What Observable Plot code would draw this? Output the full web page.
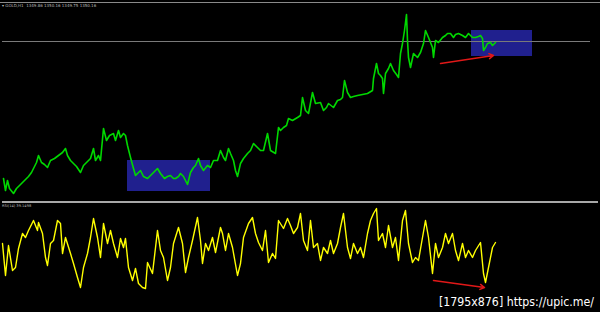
<!DOCTYPE html>
<html>
<head>
<meta charset="utf-8">
<script src="https://cdn.jsdelivr.net/npm/d3@7"></script>
<script src="https://cdn.jsdelivr.net/npm/@observablehq/plot@0.6"></script>
<style>
  html, body { margin: 0; padding: 0; background: #000; }
  #wrap { position: relative; width: 600px; height: 312px; background: #000; overflow: hidden; font-family: "DejaVu Sans", sans-serif; }
  #wrap > div.plot { position: absolute; left: 0; }
  .hline { position: absolute; }
  .lbl { position: absolute; color: #bbb; white-space: nowrap; line-height: 1; }
</style>
</head>
<body>
<div id="wrap">
  <div class="hline" style="left:0;top:2px;width:600px;height:1px;background:#8a8a8a"></div>
  <div class="lbl" style="left:2px;top:4px;font-size:4px">▾ GOLD,H1&nbsp; 1349.86 1350.16 1349.75 1350.16</div>
  <div class="plot" id="top" style="top:0"></div>
  <div class="hline" style="left:2px;top:201px;width:596px;height:2px;background:#a8a8a8"></div>
  <div class="lbl" style="left:2px;top:205px;font-size:3.6px">RSI(14) 39.1498</div>
  <div class="plot" id="bottom" style="top:200px"></div>
  <svg style="position:absolute;left:0;top:0" width="600" height="312">
    <text x="594" y="306" text-anchor="end" textLength="155" lengthAdjust="spacingAndGlyphs"
      font-family="'Liberation Sans Narrow','DejaVu Sans Condensed',sans-serif" font-size="12.5"
      fill="#fff" stroke="#000" stroke-width="2" paint-order="stroke">[1795x876] https://upic.me/</text>
  </svg>
</div>
<script>
// ---- price panel (bar index, close) ----
const bars = [3,5,7,9,13,16,20,24,28,31,33,36,38,41,44,47,50,54,58,62,65,67,70,73,76,80,83,86,90,93,95,98,100,103,106,109,113,115,118,120,123,125,127,130,133,135,137,140,143,147,150,153,157,160,164,167,170,173,175,178,180,183,185,187,190,193,195,198,200,203,207,210,213,217,220,223,225,228,230,233,235,237,240,243,247,250,253,257,260,263,267,270,275,278,280,283,286,288,292,297,300,302,305,308,312,315,320,323,326,328,333,337,340,342,344,347,350,353,357,362,367,372,373,376,378,380,382,383,385,388,390,393,396,398,400,402,404,406,407,408,410,413,417,420,423,425,428,430,432,433,435,438,442,445,447,450,453,455,458,462,465,468,472,475,478,480,482,483,485,487,490,492,495];
const closes = [1281.5,1275.5,1280.5,1276.5,1274,1276.5,1278.5,1280.5,1282.5,1284.5,1286.5,1289.5,1293,1289.5,1288.5,1287,1290.5,1291.5,1293,1294.5,1296.5,1293,1290.5,1289,1287.5,1284.5,1288,1289.5,1291.5,1296.5,1290.5,1293,1290.5,1306.5,1300.5,1303,1304,1300.5,1305.5,1302,1304,1303,1298,1292,1286.5,1283,1284,1285.5,1282.5,1281.5,1283,1284.5,1286.5,1284,1281.5,1282.5,1283,1281.5,1281.5,1282.5,1284,1282.5,1280.5,1278.5,1284.5,1287,1288,1291.5,1288,1285.5,1288,1287,1290.5,1290.5,1295.5,1292,1290.5,1296.5,1294,1290.5,1285.5,1282.5,1289,1291.5,1294,1295.5,1299,1297,1295.5,1295.5,1304,1295.5,1294,1307,1305.5,1307,1308,1311.5,1310.5,1312,1313,1322,1315.5,1314,1324.5,1319,1319.5,1315.5,1317,1319,1317,1320.5,1321,1322,1330.5,1324.5,1322,1322.5,1323,1323.5,1324,1325.5,1331.5,1339,1334,1333,1331.5,1324,1334,1336.5,1339,1335.5,1333.5,1332,1344,1349,1355.5,1363.5,1350.5,1342,1337,1344,1342,1344.5,1349,1355.5,1352,1349.5,1347,1342,1350.5,1349.5,1352,1353,1354,1354,1352,1353.5,1354,1353,1352,1354,1352,1352,1352.5,1353,1351.5,1345.5,1347,1349,1349.5,1348,1349.5];
const bidPrice = 1350;
const zoneStart = [127, 471];
const zoneEnd = [210, 532];
const zoneLow = [1275, 1342.5];
const zoneHigh = [1290.5, 1355.5];
const priceArrow = {fromBar: 440, fromPrice: 1339, toBar: 493, toPrice: 1343};

// ---- oscillator panel (bar index, RSI) ----
const oscBars = [2,5,8,12,15,18,22,25,28,33,37,38,42,45,47,50,53,57,60,62,65,70,73,77,80,83,87,90,93,97,100,103,107,110,113,117,120,123,125,128,132,135,138,142,145,147,152,157,160,163,167,170,173,178,182,185,188,192,197,200,202,205,208,212,215,220,222,225,228,232,237,240,243,248,252,255,258,262,265,268,272,275,278,283,287,290,293,297,300,303,307,310,313,317,320,323,327,330,333,337,340,343,347,350,353,357,360,363,367,370,373,376,378,382,385,388,392,395,398,402,405,408,412,415,418,422,425,428,432,435,438,442,445,448,452,455,458,462,465,468,472,475,480,483,485,488,492,495];
const rsi = [57,25,55,30,33,52,67,63,70,80,70,78,67,43,35,57,60,80,77,47,63,47,37,23,13,33,47,63,82,63,43,77,57,70,57,43,62,53,62,33,20,32,17,13,12,38,27,70,50,43,20,33,57,73,57,28,43,60,83,60,37,57,50,63,48,73,67,50,67,53,25,37,63,77,83,67,58,50,70,38,47,42,80,72,82,75,67,73,87,60,50,80,53,57,40,53,47,60,47,57,73,87,53,42,57,47,53,43,67,80,87,92,60,67,53,75,53,63,40,80,90,57,38,43,40,63,80,63,27,57,43,53,67,57,67,50,40,57,43,50,43,50,58,27,18,33,53,58];
const rsiArrow = {fromBar: 433, fromValue: 20, toBar: 484, toValue: 13};

const priceData = bars.map((b, i) => ({bar: b, close: closes[i]}));
const zones = zoneStart.map((s, i) => ({x1: s, x2: zoneEnd[i], y1: zoneLow[i], y2: zoneHigh[i]}));
const oscData = oscBars.map((b, i) => ({bar: b, rsi: rsi[i]}));

const topPlot = Plot.plot({
  width: 600, height: 200,
  marginTop: 0, marginBottom: 0, marginLeft: 0, marginRight: 0,
  style: {background: "transparent", overflow: "visible"},
  x: {domain: [0, 600], axis: null},
  y: {domain: [1270.5, 1370.5], axis: null},
  marks: [
    Plot.rect(zones, {x1: "x1", x2: "x2", y1: "y1", y2: "y2", fill: "#20208e"}),
    Plot.ruleY([{p: bidPrice, a: 2, b: 590}], {y: "p", x1: "a", x2: "b", stroke: "#7a7a7a", strokeWidth: 1}),
    Plot.line(priceData, {x: "bar", y: "close", stroke: "#00d800", strokeWidth: 1.6, curve: "linear"}),
    Plot.arrow([priceArrow], {x1: "fromBar", y1: "fromPrice", x2: "toBar", y2: "toPrice", stroke: "#e01818", strokeWidth: 1.5, headLength: 5})
  ]
});
document.getElementById("top").appendChild(topPlot);

const botPlot = Plot.plot({
  width: 600, height: 112,
  marginTop: 0, marginBottom: 12, marginLeft: 0, marginRight: 0,
  style: {background: "transparent", overflow: "visible"},
  x: {domain: [0, 600], axis: null},
  y: {domain: [0, 100], axis: null},
  marks: [
    Plot.line(oscData, {x: "bar", y: "rsi", stroke: "#ffff00", strokeWidth: 1.4}),
    Plot.arrow([rsiArrow], {x1: "fromBar", y1: "fromValue", x2: "toBar", y2: "toValue", stroke: "#e01818", strokeWidth: 1.5, headLength: 5})
  ]
});
document.getElementById("bottom").appendChild(botPlot);
</script>
</body>
</html>
